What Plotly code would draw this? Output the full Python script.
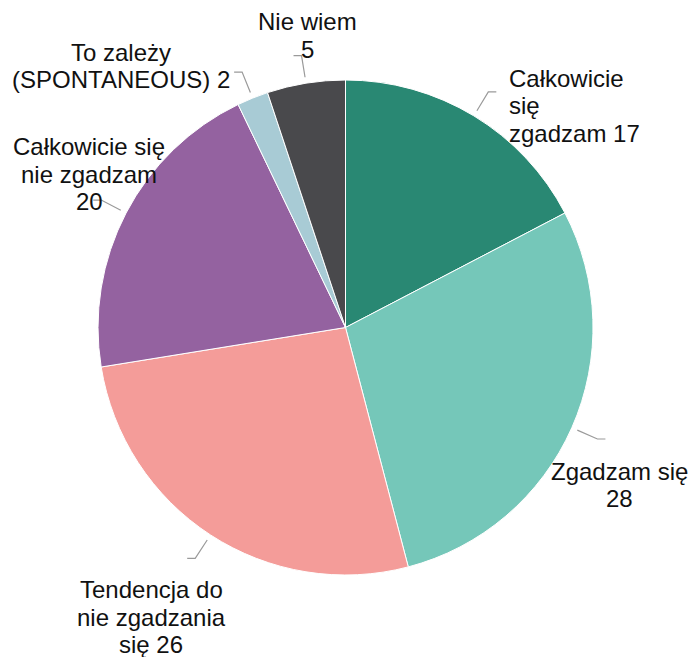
import math
import plotly.graph_objects as go

# ---- data ----
categories = [
    "Całkowicie się zgadzam",
    "Zgadzam się",
    "Tendencja do nie zgadzania się",
    "Całkowicie się nie zgadzam",
    "To zależy (SPONTANEOUS)",
    "Nie wiem",
]
values = [17, 28, 26, 20, 2, 5]
label_text = [
    "Całkowicie<br>się<br>zgadzam 17",
    "Zgadzam się<br>28",
    "Tendencja do<br>nie zgadzania<br>się 26",
    "Całkowicie się<br>nie zgadzam<br>20",
    "To zależy<br>(SPONTANEOUS) 2",
    "Nie wiem<br>5",
]
colors = ["#298873", "#75c7b9", "#f49c99", "#9462a0", "#a8cbd5", "#49494c"]

# ---- layout / style ----
W, H = 689, 657
CX, CY, R = 345.5, 327.5, 247.5
# label offsets (px) from the end of each leader line, and text alignment
label_offset = [(11, 14), (14, 46), (-36, 59), (-4, -26), (-113, -6), (14, -20)]
label_xanchor = ["left", "center", "center", "center", "center", "center"]
LINE_H = 27.5
FONT = dict(family="Liberation Sans, Arial, sans-serif", size=24, color="#111111")

fig = go.Figure(
    go.Pie(
        labels=categories,
        values=values,
        sort=False,
        direction="clockwise",
        rotation=0,
        marker=dict(colors=colors, line=dict(color="white", width=1)),
        textinfo="none",
        hoverinfo="label+value",
        showlegend=False,
        domain=dict(
            x=[(CX - R) / W, (CX + R) / W],
            y=[1 - (CY + R) / H, 1 - (CY - R) / H],
        ),
    )
)

def px(x):
    return x / W

def py(y):
    return 1 - y / H

total = sum(values)
cum = 0
shapes, annotations = [], []
for i, v in enumerate(values):
    mid = (cum + v / 2) / total * 2 * math.pi
    cum += v
    s, c = math.sin(mid), math.cos(mid)
    x1, y1 = CX + (R + 6) * s, CY - (R + 6) * c
    x2, y2 = CX + (R + 28) * s, CY - (R + 28) * c
    side = 1 if s >= 0 else -1
    x3 = x2 + 8 * side
    shapes.append(dict(
        type="path", xref="paper", yref="paper",
        path=f"M {px(x1)} {py(y1)} L {px(x2)} {py(y2)} L {px(x3)} {py(y2)}",
        line=dict(color="#9a9a9a", width=1.2),
    ))
    dx, dy = label_offset[i]
    lines = label_text[i].split("<br>")
    n = len(lines)
    for k, line in enumerate(lines):
        yk = y2 + dy + (k - (n - 1) / 2) * LINE_H
        annotations.append(dict(
            x=px(x3 + dx), y=py(yk), xref="paper", yref="paper",
            text=line, showarrow=False,
            xanchor=label_xanchor[i], yanchor="middle",
            font=FONT,
        ))

fig.update_layout(
    width=W, height=H,
    margin=dict(l=0, r=0, t=0, b=0),
    paper_bgcolor="white",
    plot_bgcolor="white",
    shapes=shapes,
    annotations=annotations,
)

fig.write_html(
    "out.html",
    config={"displayModeBar": False},
    post_script="document.body.style.margin='0';document.documentElement.style.overflow='hidden';",
)
